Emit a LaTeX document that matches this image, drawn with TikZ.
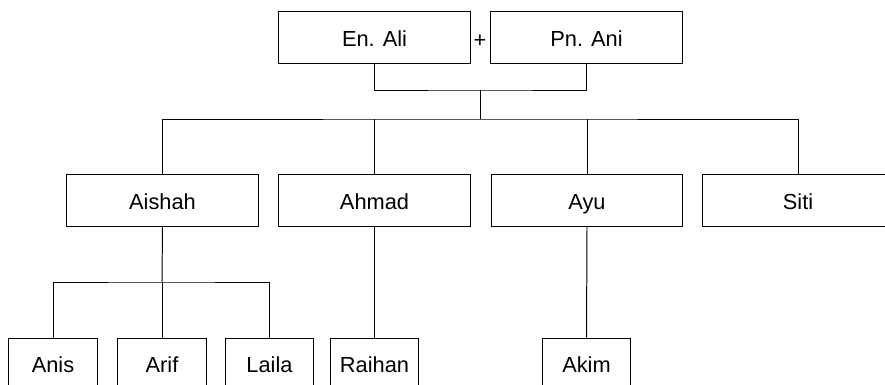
\documentclass[tikz,border=0pt]{standalone}
\usepackage{fontspec}
\setmainfont{Liberation Sans}
\usepackage{tikz}
\usetikzlibrary{positioning}

\begin{document}
\begin{tikzpicture}[x=0.025cm,y=-0.025cm,line width=0.7pt,
		font=\fontsize{15.5}{18}\selectfont]
		\useasboundingbox (0,0) rectangle (885,385);
		\clip (0,0) rectangle (885,385);

		\begin{scope}[every node/.style={rectangle,draw,line width=0.7pt,minimum width=4.775cm,minimum height=1.275cm,inner sep=0pt,text height=13pt,text depth=0pt}]
			\node (Ali) at (374.5,37.5) {En. Ali};
			\node (Ani) at (586.5,37.5) {Pn. Ani};
			\node (Aishah) at (162.5,200.5) {Aishah};
			\node (Ahmad) at (374.5,200.5) {Ahmad};
			\node (Ayu) at (587,200.5) {Ayu};
			\node (Siti) at (798,200.5) {Siti};
		\end{scope}

		\begin{scope}[every node/.style={rectangle,draw,line width=0.7pt,minimum width=2.2cm,minimum height=1.275cm,inner sep=0pt,text height=13pt,text depth=0pt}]
			\node (Anis) at (53,363.5) {Anis};
			\node (Arif) at (162,363.5) {Arif};
			\node (Laila) at (269.5,363.5) {Laila};
			\node (Raihan) at (374.5,363.5) {Raihan};
			\node (Akim) at (586.5,363.5) {Akim};
		\end{scope}

		\node (plus) at (480,41) {+};

		\coordinate (couple) at (480,90);
		\coordinate (bus) at (480,119);
		\coordinate (kids) at (162,282);

		\draw (Ali.south) |- (couple) -| (Ani.south);
		\draw (couple) -- (bus);
		\draw (Aishah.north) |- (bus) -| (Siti.north);
		\draw (Ahmad.north) -- (Ahmad.north |- bus);
		\draw (Ayu.north) -- (Ayu.north |- bus);

		\draw (Aishah.south) -- (kids);
		\draw (Anis.north) |- (kids) -| (Laila.north);
		\draw (Arif.north) -- (kids);
		\draw (Ahmad.south) -- (Raihan.north);
		\draw (Ayu.south) -- (Akim.north);
	\end{tikzpicture}
\end{document}
